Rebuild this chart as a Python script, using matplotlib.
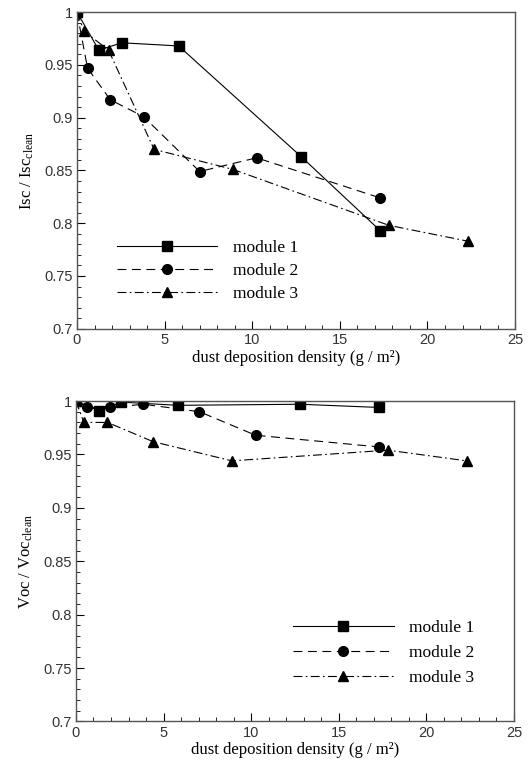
import numpy as np
import matplotlib.pyplot as plt
from matplotlib.ticker import MultipleLocator

# Isc / Isc_clean vs dust density
isc_x1 = [0, 1.25, 2.55, 5.8, 12.8, 17.3]
isc_y1 = [1.0, 0.964, 0.971, 0.968, 0.863, 0.793]
isc_x2 = [0, 0.6, 1.9, 3.8, 7.0, 10.25, 17.3]
isc_y2 = [1.0, 0.947, 0.917, 0.901, 0.849, 0.862, 0.824]
isc_x3 = [0, 0.4, 1.8, 4.4, 8.9, 17.8, 22.3]
isc_y3 = [1.0, 0.982, 0.964, 0.870, 0.851, 0.798, 0.783]

# Voc / Voc_clean vs dust density
voc_x1 = [0, 1.3, 2.6, 5.8, 12.8, 17.3]
voc_y1 = [1.0, 0.991, 0.999, 0.996, 0.997, 0.994]
voc_x2 = [0, 0.65, 1.95, 3.85, 7.05, 10.25, 17.3]
voc_y2 = [1.0, 0.994, 0.994, 0.997, 0.990, 0.968, 0.957]
voc_x3 = [0, 0.45, 1.8, 4.4, 8.9, 17.8, 22.3]
voc_y3 = [1.0, 0.980, 0.980, 0.962, 0.944, 0.954, 0.944]

labels = ["module 1", "module 2", "module 3"]

serif = "Liberation Serif"
sans = "Liberation Sans"

plt.rcParams["mathtext.fontset"] = "custom"
plt.rcParams["mathtext.rm"] = serif
plt.rcParams["mathtext.it"] = serif

fig = plt.figure(figsize=(5.31, 7.61), dpi=100)
ax1 = fig.add_axes([0.145, 0.568, 0.825, 0.416])
ax2 = fig.add_axes([0.143, 0.052, 0.825, 0.421])

styles = [
    dict(linestyle="-", marker="s"),
    dict(linestyle=(0, (8, 5)), marker="o"),
    dict(linestyle=(0, (8, 3, 1.5, 3)), marker="^"),
]


def draw(ax, series, ylabel, legend_pos, spacing):
    for (x, y), st, lab in zip(series, styles, labels):
        ax.plot(x, y, color="black", lw=0.8, ms=7, label=lab, **st)
    ax.set_xlim(0, 25)
    ax.set_ylim(0.7, 1.0)
    ax.xaxis.set_major_locator(MultipleLocator(5))
    ax.xaxis.set_minor_locator(MultipleLocator(1))
    ax.yaxis.set_minor_locator(MultipleLocator(0.01))
    ax.tick_params(which="both", direction="in", top=False, right=False)
    ax.tick_params(which="major", length=6, labelsize=10.5, pad=3)
    ax.tick_params(which="minor", length=3)
    ax.set_yticks([0.7, 0.75, 0.8, 0.85, 0.9, 0.95, 1.0])
    ax.set_yticklabels(["0.7", "0.75", "0.8", "0.85", "0.9", "0.95", "1"])
    for lbl in ax.get_xticklabels() + ax.get_yticklabels():
        lbl.set_family(sans)
        lbl.set_color("#333333")
    for sp in ax.spines.values():
        sp.set_color("#555555")
        sp.set_linewidth(1.0)
    ax.set_xlabel("dust deposition density (g / m²)", family=serif,
                  fontsize=12, labelpad=2)
    ax.set_ylabel(ylabel, family=serif, fontsize=12, labelpad=6)
    ax.legend(loc="upper left", bbox_to_anchor=legend_pos, frameon=False,
              handlelength=5.8, labelspacing=spacing, handletextpad=0.9,
              prop={"family": serif, "size": 12.5})


draw(ax1, [(isc_x1, isc_y1), (isc_x2, isc_y2), (isc_x3, isc_y3)],
     r"Isc / Isc$_{\mathrm{clean}}$", (0.055, 0.33), 0.4)
draw(ax2, [(voc_x1, voc_y1), (voc_x2, voc_y2), (voc_x3, voc_y3)],
     r"Voc / Voc$_{\mathrm{clean}}$", (0.46, 0.365), 0.5)

fig.savefig("out.png", dpi=100)
